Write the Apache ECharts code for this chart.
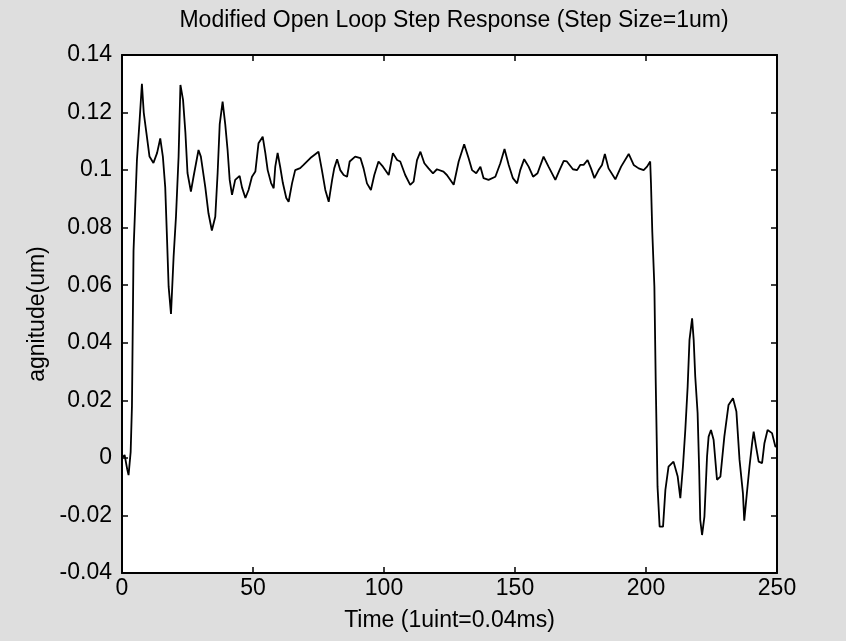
<!DOCTYPE html>
<html>
<head>
<meta charset="utf-8">
<script src="https://cdn.jsdelivr.net/npm/echarts@6/dist/echarts.min.js"></script>
<style>
html,body{margin:0;padding:0;background:#dedede;}
#chart{width:846px;height:641px;}
</style>
</head>
<body>
<div id="chart"></div>
<script>
const titleText = 'Modified Open Loop Step Response (Step Size=1um)';
const xName = 'Time (1uint=0.04ms)';
const yName = 'agnitude(um)';
const xTicks = [0, 50, 100, 150, 200, 250];
const yTicks = [-0.04, -0.02, 0, 0.02, 0.04, 0.06, 0.08, 0.1, 0.12, 0.14];

const times = [0,1,2,2.5,3.3,3.8,4.4,5.7,6.7,7.6,8.3,9.3,10.5,12,13.4,14.6,15.6,16.5,17.2,17.8,18.7,19.7,20.6,21.6,22.3,23.3,24.2,25,26.3,27.3,29.2,30.1,31.8,33,34.3,35.6,36.5,37.3,38.4,39.4,40.3,41.1,42,43.2,44.9,45.8,47.1,48.3,49.6,50.9,52.1,53.7,54.7,55.6,56.9,57.9,58.5,59.4,60.4,61.4,62.7,63.6,64.9,66.1,68,69.3,71.9,75,76.3,77.6,78.9,80.2,81,82.1,83.3,84.6,85.9,86.9,89,91,92.2,93.5,95,96.3,97.9,99.6,101.8,103.4,105,106.2,108.1,110,111.3,112.6,113.9,115.4,117,118.7,120.2,122.7,124,126.6,128.5,130.6,132.3,133.6,135.2,136.8,138,139.9,142.5,144.4,146,147.6,149.2,150.8,152,153.5,155.2,156.9,158.6,160.9,162.8,165.4,167,168.6,169.8,172.1,173.7,174.9,176.2,177.7,179,180.3,181.9,183.2,184.3,185.7,188.3,190.5,193.4,195.3,197.2,199.1,200.4,201.6,201.9,202.4,203.2,203.7,204.4,205.2,206.5,207.4,208.6,210.5,212.1,213.1,214.1,215,215.9,216.6,217.6,218.2,218.8,219.7,220.3,220.7,221.4,222.3,223.3,223.9,224.8,225.8,227.1,228.4,229.9,231.5,233.2,234.5,235.7,237,237.5,238.5,239.5,240.5,241.1,242,243,244.3,245.2,246.4,248.1,249.4,250];
const values = [0,0.001,-0.004,-0.006,0.002,0.018,0.072,0.1035,0.117,0.130,0.120,0.113,0.1047,0.1025,0.106,0.111,0.1047,0.094,0.0757,0.0595,0.050,0.070,0.0838,0.1047,0.1296,0.1244,0.113,0.099,0.0925,0.0977,0.107,0.1047,0.094,0.085,0.079,0.0838,0.099,0.116,0.1238,0.116,0.107,0.0966,0.0914,0.0966,0.098,0.094,0.0903,0.0931,0.0977,0.0995,0.1093,0.1116,0.106,0.100,0.0955,0.0937,0.1012,0.106,0.101,0.0955,0.0903,0.089,0.0954,0.100,0.1007,0.1018,0.1042,0.1064,0.100,0.0931,0.089,0.0966,0.1006,0.1038,0.100,0.0983,0.0977,0.103,0.1047,0.1042,0.1006,0.0954,0.0931,0.0983,0.103,0.1012,0.0983,0.1059,0.1035,0.103,0.0983,0.0949,0.096,0.1035,0.1064,0.1024,0.1006,0.0989,0.1003,0.0995,0.0983,0.0949,0.103,0.109,0.1041,0.100,0.0989,0.1012,0.0972,0.0966,0.0977,0.1024,0.1073,0.1018,0.0972,0.0954,0.100,0.1038,0.1012,0.0977,0.0989,0.1047,0.1012,0.0966,0.100,0.1032,0.103,0.1003,0.100,0.1018,0.1018,0.1035,0.1006,0.0972,0.100,0.1018,0.1056,0.1006,0.0968,0.1012,0.1056,0.1018,0.1006,0.1000,0.1012,0.103,0.0954,0.0786,0.0595,0.0271,-0.010,-0.0239,-0.0239,-0.0111,-0.003,-0.0013,-0.0065,-0.014,-0.003,0.0097,0.0248,0.041,0.0485,0.041,0.0282,0.0155,-0.0042,-0.0215,-0.0268,-0.0204,0.0005,0.0074,0.0097,0.0063,-0.0076,-0.0065,0.0074,0.0184,0.0207,0.0161,-0.0007,-0.0123,-0.0218,-0.0123,-0.003,0.0051,0.0091,0.0039,-0.0013,-0.0018,0.0051,0.0097,0.0086,0.0039,0.004];

const seriesData = times.map((t, i) => [t, values[i]]);
const FONT = '"Liberation Sans", Arial, sans-serif';
const FS = 23;

const chart = echarts.init(document.getElementById('chart'), null, {renderer: 'canvas'});
const tickStyle = {show: true, inside: true, length: 6, lineStyle: {color: '#000', width: 1.5}};
const lineStyle = {show: true, onZero: false, lineStyle: {color: '#000', width: 2}};
chart.setOption({
  backgroundColor: '#dedede',
  animation: false,
  title: {
    text: titleText, left: 449, top: 4, textAlign: 'center',
    textStyle: {fontFamily: FONT, fontSize: FS, fontWeight: 'normal', color: '#000'}
  },
  grid: {left: 122, right: 69, top: 55, bottom: 68, show: true, backgroundColor: '#fff', borderWidth: 0},
  xAxis: [{
    type: 'value', min: xTicks[0], max: xTicks[xTicks.length - 1], interval: 50,
    name: xName, nameLocation: 'middle', nameGap: 36,
    nameTextStyle: {fontFamily: FONT, fontSize: FS, color: '#000'},
    axisLine: lineStyle, axisTick: tickStyle, splitLine: {show: false},
    axisLabel: {fontFamily: FONT, fontSize: FS, color: '#000', margin: 4}
  }, {
    type: 'value', position: 'top', min: 0, max: 250, interval: 50,
    axisLine: lineStyle, axisTick: tickStyle, splitLine: {show: false}, axisLabel: {show: false}
  }],
  yAxis: [{
    type: 'value', min: yTicks[0], max: yTicks[yTicks.length - 1], interval: 0.02,
    name: yName, nameLocation: 'middle', nameGap: 68, nameRotate: 90,
    nameTextStyle: {fontFamily: FONT, fontSize: FS, color: '#000'},
    axisLine: lineStyle, axisTick: tickStyle, splitLine: {show: false},
    axisLabel: {fontFamily: FONT, fontSize: FS, color: '#000', margin: 10,
      formatter: v => { const r = Math.round(v * 100) / 100; return r === 0 ? '0' : String(r); }}
  }, {
    type: 'value', position: 'right', min: -0.04, max: 0.14, interval: 0.02,
    axisLine: lineStyle, axisTick: tickStyle, splitLine: {show: false}, axisLabel: {show: false}
  }],
  series: [{
    type: 'line', data: seriesData, showSymbol: false, symbol: 'none',
    lineStyle: {color: '#000', width: 1.8}, xAxisIndex: 0, yAxisIndex: 0
  }]
});
</script>
</body>
</html>
